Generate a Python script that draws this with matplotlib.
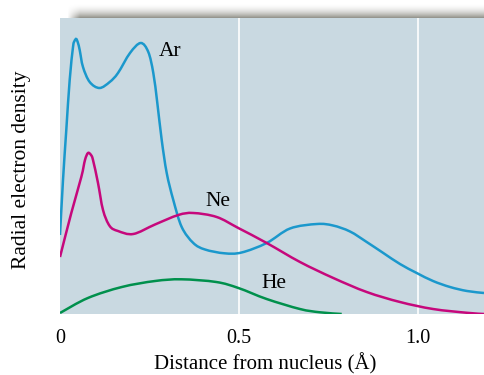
import numpy as np
import matplotlib
matplotlib.use("Agg")
import matplotlib.pyplot as plt
from matplotlib.path import Path
from matplotlib.patches import PathPatch

plt.rcParams['font.family'] = ['Liberation Serif', 'DejaVu Serif']

# ---- data ----
ar_x = [0.000, 0.0084, 0.0176, 0.0271, 0.0364, 0.0406, 0.0456, 0.0503, 0.0551, 0.0643,
        0.0831, 0.1105, 0.1390, 0.1622, 0.1958, 0.2257, 0.2470, 0.2610, 0.2722, 0.2845,
        0.2985, 0.3169, 0.3404, 0.3729, 0.4056, 0.4600, 0.5080, 0.5782,
        0.6434, 0.7189, 0.7636, 0.8112, 0.8579, 0.9043, 0.9510, 0.9978, 1.0434,
        1.0909, 1.1385, 1.1860]
ar_y = [0.79, 1.34, 1.84, 2.34, 2.67, 2.73, 2.75, 2.71, 2.64, 2.47,
        2.32, 2.26, 2.32, 2.41, 2.61, 2.71, 2.62, 2.41, 2.11, 1.74,
        1.41, 1.14, 0.87, 0.71, 0.645, 0.607, 0.615, 0.71,
        0.855, 0.90, 0.885, 0.825, 0.72, 0.61, 0.50, 0.41, 0.33,
        0.27, 0.23, 0.21]

ne_x = [0.000, 0.0316, 0.0596, 0.0699, 0.0783, 0.0867, 0.0923, 0.1063, 0.1203, 0.1390,
        0.1622, 0.2050, 0.2657, 0.3309, 0.3729, 0.4383, 0.4987, 0.5782, 0.6713, 0.7645,
        0.8579, 0.9510, 1.0434, 1.1385, 1.1860]
ne_y = [0.57, 1.01, 1.37, 1.54, 1.61, 1.59, 1.54, 1.31, 1.04, 0.88,
        0.83, 0.80, 0.895, 0.99, 1.01, 0.97, 0.86, 0.71, 0.52, 0.36,
        0.22, 0.12, 0.05, 0.012, 0.0]

he_x = [0.000, 0.078, 0.173, 0.266, 0.340, 0.437, 0.499, 0.578, 0.671, 0.727, 0.788]
he_y = [0.01, 0.16, 0.27, 0.33, 0.347, 0.32, 0.26, 0.15, 0.05, 0.017, 0.0]

xticks = [0, 0.5, 1.0]
xtick_labels = ["0", "0.5", "1.0"]


def smooth_path(xs, ys):
    """Catmull-Rom curve through the data points, drawn as cubic Bezier segments."""
    P = np.column_stack([xs, ys]).astype(float)
    n = len(P)
    verts = [P[0]]
    codes = [Path.MOVETO]
    for i in range(n - 1):
        p0 = P[i - 1] if i > 0 else P[i]
        p1, p2 = P[i], P[i + 1]
        p3 = P[i + 2] if i + 2 < n else P[i + 1]
        c1 = p1 + (p2 - p0) / 6.0
        c2 = p2 - (p3 - p1) / 6.0
        verts += [c1, c2, p2]
        codes += [Path.CURVE4] * 3
    return Path(verts, codes)


# ---- figure ----
W, H = 484, 375
fig = plt.figure(figsize=(W / 100, H / 100), dpi=100)
fig.patch.set_facecolor('white')

ax = fig.add_axes([60 / W, 1 - 314 / H, (W - 60) / W, (314 - 18) / H])
ax.set_facecolor('#c9d9e1')
ax.set_xlim(0, 1.186)
ax.set_ylim(0, 2.96)

for xv in [0.5, 1.0]:
    ax.axvline(xv, color='white', lw=1.2, zorder=1)

for xs, ys, col in [(ar_x, ar_y, '#1b98cc'), (ne_x, ne_y, '#c6087c'), (he_x, he_y, '#00904c')]:
    patch = PathPatch(smooth_path(xs, ys), facecolor='none', edgecolor=col, lw=1.8,
                      transform=ax.transData, zorder=3, capstyle='butt')
    ax.add_patch(patch)

ax.text(0.307, 2.62, "Ar", fontsize=15.5, ha='center', va='center')
ax.text(0.441, 1.13, "Ne", fontsize=15.5, ha='center', va='center')
ax.text(0.598, 0.31, "He", fontsize=15.5, ha='center', va='center')

ax.set_xticks(xticks)
ax.set_xticklabels(xtick_labels, fontsize=14.5)
ax.set_yticks([])
ax.tick_params(axis='x', length=0, pad=11)
for s in ax.spines.values():
    s.set_visible(False)

ax.set_xlabel("Distance from nucleus (Å)", fontsize=15)
ax.xaxis.set_label_coords((265 - 60) / 424, -(369 - 314) / 296, transform=ax.transAxes)
ax.xaxis.label.set_va('baseline')
fig.text(22 / W, 1 - 170 / H, "Radial electron density", fontsize=15.5,
         rotation=90, ha='center', va='center')

# shadow bar on top
sax = fig.add_axes([67 / W, 1 - 18 / H, (W - 67) / W, 15 / H])
sax.set_axis_off()
ny, nx = 30, 400
yy = np.linspace(0, 1, ny)[:, None]   # 0 top, 1 bottom
xx = np.linspace(0, 1, nx)[None, :]
alpha = (yy ** 2.0) * np.clip(xx / 0.03, 0, 1)
img = np.zeros((ny, nx, 4))
img[..., 0] = 0.55
img[..., 1] = 0.55
img[..., 2] = 0.52
img[..., 3] = alpha * 0.95
sax.imshow(img, aspect='auto', extent=[0, 1, 0, 1], interpolation='bilinear')

fig.savefig("out.png", dpi=100)
